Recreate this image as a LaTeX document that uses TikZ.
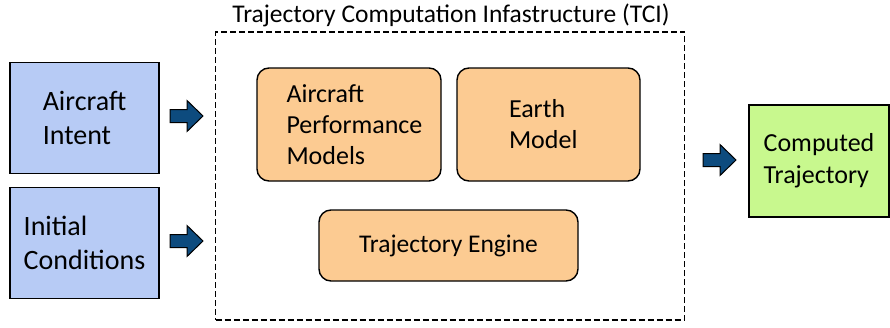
\documentclass[tikz,border=0pt]{standalone}
\usepackage{fontspec}
\setmainfont{Carlito}
\definecolor{inblue}{HTML}{B7CBF5}
\definecolor{boxorange}{HTML}{FCCB92}
\definecolor{outgreen}{HTML}{C8F88E}
\definecolor{arrowblue}{HTML}{0D4B7E}
\begin{document}
\begin{tikzpicture}[x=1pt,y=-1pt,
  inbox/.style={draw=black, line width=1.2pt, fill=inblue, align=left, inner sep=0pt,
    font=\fontsize{28}{34}\selectfont},
  outbox/.style={draw=black, line width=1.2pt, fill=outgreen, align=left, inner sep=0pt,
    font=\fontsize{26}{32}\selectfont},
  modbox/.style={draw=black, line width=1.4pt, fill=boxorange, rounded corners=12pt, align=left, inner sep=0pt,
    font=\fontsize{26}{31}\selectfont},
  blockarrow/.pic={\draw[fill=arrowblue, draw=black, line width=1pt]
     (0,-6.5) -- (17,-6.5) -- (17,-15.5) -- (33,0) -- (17,15.5) -- (17,6.5) -- (0,6.5) -- cycle;}
]
\useasboundingbox (0,0) rectangle (890,327);

% TCI frame
\node[draw=black, line width=1.5pt, dash pattern=on 6pt off 3pt, minimum width=469pt, minimum height=288pt, inner sep=0pt]
  (tci) at (450,176) {};
\node[font=\fontsize{25.5}{30}\selectfont, anchor=base] (tcititle) at (451,22) {Trajectory Computation Infastructure (TCI)};

% inputs
\node[inbox, minimum width=149pt, minimum height=111pt] (intent) at (84.5,118) {Aircraft\\Intent};
\node[inbox, minimum width=149pt, minimum height=111pt] (init) at (84.5,243) {Initial\\Conditions};

% inner models
\node[modbox, minimum width=184pt, minimum height=113pt] (apm) at (349,124.5) {};
\node[align=left, anchor=west, inner sep=0pt, font=\fontsize{26}{31}\selectfont] (apmtext) at ([xshift=30pt]apm.west) {Aircraft\\Performance\\Models};
\node[modbox, minimum width=183pt, minimum height=113pt, text width=79pt, inner xsep=52pt] (earth) at (548.5,124.5) {Earth\\Model};
\node[modbox, minimum width=259pt, minimum height=71pt, font=\fontsize{25.5}{31}\selectfont] (engine) at (448.5,245.5) {Trajectory Engine};

% output
\node[outbox, minimum width=140pt, minimum height=112pt] (out) at (819,161) {Computed\\Trajectory};

% block arrows
\coordinate (a1) at (170,116);
\coordinate (a2) at (170,241);
\coordinate (a3) at (703,160);
\pic at (a1) {blockarrow};
\pic at (a2) {blockarrow};
\pic at (a3) {blockarrow};
\end{tikzpicture}
\end{document}
